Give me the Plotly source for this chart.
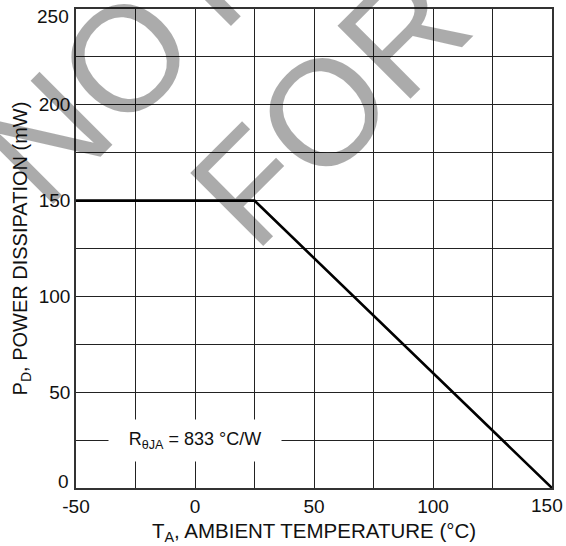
import plotly.graph_objects as go

# Data
temp_c = [-50, 25, 150]
power_mw = [150, 150, 0]

x_tickvals = [-50, -25, 0, 25, 50, 75, 100, 125, 150]
x_ticktext = ["-50", "", "0", "", "50", "", "100", "", ""]
# last x label drawn as an annotation (nudged inside the page as in the original)
x_end_labels = [(150, "150", -5)]
y_tickvals = [0, 25, 50, 75, 100, 125, 150, 175, 200, 225, 250]
y_ticktext = ["", "", "50", "", "100", "", "150", "", "200", "", ""]
# end labels drawn as annotations (nudged inside the frame as in the original)
y_end_labels = [(0, "0", 7), (250, "250", -7)]

FONT = "Liberation Sans, Arial, Helvetica, sans-serif"

fig = go.Figure()
fig.add_trace(go.Scatter(x=temp_c, y=power_mw, mode="lines",
                         line=dict(color="black", width=2.6),
                         showlegend=False, hoverinfo="skip"))

fig.update_layout(
    width=566, height=546,
    margin=dict(l=76, r=14, t=9, b=58),
    paper_bgcolor="white", plot_bgcolor="white",
    font=dict(family=FONT, size=19, color="#111"),
    xaxis=dict(range=[-50, 150], tickvals=x_tickvals, ticktext=x_ticktext,
               showgrid=True, gridcolor="#222", gridwidth=1,
               showline=True, linecolor="#333", linewidth=1.5, mirror=True,
               ticks="", zeroline=False, automargin=False,
               title=dict(text="T<sub>A</sub>, AMBIENT TEMPERATURE (°C)",
                          font=dict(size=20.5), standoff=8)),
    yaxis=dict(range=[0, 250], tickvals=y_tickvals, ticktext=y_ticktext,
               showgrid=True, gridcolor="#222", gridwidth=1,
               showline=True, linecolor="#333", linewidth=1.5, mirror=True,
               ticks="", zeroline=False, automargin=False,
               title=dict(text="P<sub>D</sub>, POWER DISSIPATION (mW)",
                          font=dict(size=20), standoff=6)),
)

for yv, lab, ys in y_end_labels:
    fig.add_annotation(x=0, y=yv, xref="paper", yref="y", text=lab,
                       showarrow=False, xanchor="right", yanchor="middle",
                       xshift=-5, yshift=ys, font=dict(size=19, color="#111"))

for xv, lab, xs in x_end_labels:
    fig.add_annotation(x=xv, y=0, xref="x", yref="paper", text=lab,
                       showarrow=False, xanchor="center", yanchor="middle",
                       xshift=xs, yshift=-17, font=dict(size=19, color="#111"))

fig.add_annotation(x=0, y=25, xref="x", yref="y",
                   text="R<sub>θJA</sub> = 833 °C/W",
                   showarrow=False, bgcolor="white", borderpad=0,
                   width=172, height=41,
                   font=dict(size=18, color="#111"))

# watermark
for txt, xp, yp in [("NOT", 0.0912, 0.886), ("FOR", 0.5326, 0.7985)]:
    fig.add_annotation(x=xp, y=yp, xref="paper", yref="paper", text=txt,
                       showarrow=False, textangle=-45,
                       xanchor="center", yanchor="middle",
                       font=dict(size=150, color="rgba(0,0,0,0.33)", family=FONT))

fig.write_html("out.html")
